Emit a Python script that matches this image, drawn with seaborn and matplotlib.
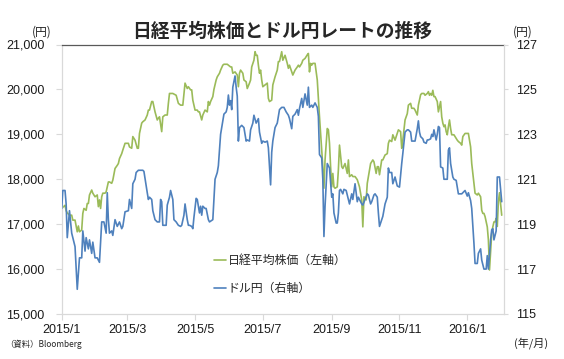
import numpy as np
import pandas as pd
import matplotlib
matplotlib.use("Agg")
import matplotlib.pyplot as plt
from matplotlib.lines import Line2D
from matplotlib.ticker import StrMethodFormatter
import seaborn as sns

# ---------------- data (days counted from 2015-01-01) ----------------
START = "2015-01-01"

nikkei_days = [0, 3, 4, 5, 7, 9, 10, 12, 14, 15, 16, 18, 19, 20, 22, 23, 24, 25, 27, 28,
               30, 32, 33, 34, 35, 36, 37, 39, 40, 42, 43, 45, 46, 48, 50, 51, 52, 54, 55, 57,
               59, 60, 61, 63, 64, 66, 68, 69, 70, 72, 73, 75, 77, 78, 79, 81, 82, 84, 86, 87,
               88, 90, 91, 93, 95, 96, 97, 99, 100, 103, 105, 107, 109, 111, 113, 114, 116, 117, 118, 120,
               122, 123, 124, 126, 127, 129, 131, 132, 133, 134, 136, 137, 139, 140, 142, 143, 145, 146, 149, 150,
               152, 153, 154, 156, 158, 159, 160, 161, 163, 164, 166, 167, 169, 170, 171, 173, 174, 175, 176, 177,
               178, 179, 180, 181, 183, 185, 186, 187, 189, 190, 192, 194, 195, 196, 198, 199, 201, 203, 204, 205,
               207, 208, 210, 212, 213, 214, 216, 217, 219, 221, 222, 223, 224, 225, 226, 228, 230, 231, 232, 234,
               235, 236, 237, 239, 240, 241, 242, 243, 244, 245, 246, 248, 249, 250, 252, 253, 255, 257, 258, 259,
               261, 262, 264, 266, 267, 268, 270, 271, 272, 274, 275, 276, 277, 278, 280, 281, 283, 284, 285, 286,
               288, 289, 291, 293, 294, 295, 297, 298, 300, 302, 303, 305, 306, 307, 308, 309, 311, 312, 314, 315,
               317, 318, 320, 321, 323, 324, 326, 327, 329, 330, 331, 332, 333, 334, 335, 336, 338, 339, 340, 341,
               342, 343, 344, 345, 346, 347, 348, 349, 350, 351, 353, 354, 356, 357, 359, 360, 361, 363, 365, 366,
               368, 369, 370, 372, 374, 375, 377, 378, 379, 380, 381, 382, 383, 384, 385, 387, 388, 389, 390, 391,
               392, 393, 394, 396]
nikkei_vals = [17350, 17420, 17300, 17250, 17200, 17200, 17090, 17090, 16830, 16960, 16830, 16870, 17240, 17350, 17310, 17460, 17460, 17650, 17760, 17690,
               17610, 17650, 17390, 17540, 17350, 17610, 17690, 17690, 17720, 17940, 17940, 17910, 17980, 18240, 18310, 18350, 18460, 18570, 18650, 18800,
               18800, 18800, 18720, 18690, 18950, 18870, 18690, 18690, 19020, 19250, 19280, 19320, 19430, 19540, 19540, 19730, 19730, 19500, 19320, 19360,
               19390, 19060, 19390, 19430, 19430, 19690, 19910, 19910, 19910, 19870, 19690, 19650, 19650, 20140, 20020, 20060, 19990, 19990, 19760, 19540,
               19540, 19500, 19500, 19320, 19430, 19540, 19500, 19730, 19650, 19730, 19840, 20000, 20210, 20280, 20360, 20430, 20540, 20560, 20560, 20540,
               20500, 20500, 20360, 20390, 20320, 20060, 20360, 20430, 20360, 20210, 20170, 20020, 20140, 20210, 20500, 20650, 20840, 20760, 20760, 20540,
               20360, 20430, 20210, 20060, 20100, 20140, 19800, 19730, 19760, 20100, 20280, 20430, 20620, 20620, 20840, 20650, 20760, 20580, 20470, 20540,
               20390, 20320, 20430, 20500, 20540, 20500, 20580, 20650, 20690, 20770, 20800, 20390, 20580, 20540, 20580, 20580, 20210, 19800, 19390, 18650,
               18280, 17800, 18430, 19130, 19100, 18800, 18280, 17830, 18130, 17830, 17800, 17830, 18210, 18760, 18280, 18240, 18350, 18130, 18430, 18060,
               18100, 18060, 18060, 17990, 17910, 17830, 17540, 16940, 17610, 17540, 17910, 18060, 18210, 18350, 18430, 18390, 18130, 18280, 18280, 18100,
               18430, 18430, 18540, 18570, 18800, 18870, 18840, 18990, 18870, 19020, 19100, 19060, 18690, 18870, 19100, 19320, 19460, 19650, 19690, 19580,
               19580, 19540, 19430, 19650, 19880, 19910, 19910, 19870, 19910, 19950, 19870, 19910, 19870, 19980, 19840, 19840, 19730, 19500, 19610, 19730,
               19390, 19250, 19170, 19210, 19060, 18990, 19170, 19320, 19130, 18990, 18990, 18950, 18870, 18840, 18800, 18760, 18950, 19020, 19020, 19020,
               18720, 18350, 18130, 17690, 17650, 17690, 17610, 17310, 17240, 17240, 17170, 17050, 16940, 16650, 15980, 16800, 16940, 17050, 17050, 17130,
               16950, 17500, 17700, 17200]

usdjpy_days = [0, 1, 3, 4, 5, 7, 9, 10, 12, 14, 16, 18, 19, 21, 22, 24, 25, 27, 28, 30,
               32, 34, 36, 38, 40, 41, 42, 43, 45, 46, 48, 50, 52, 54, 55, 57, 60, 61, 63, 64,
               66, 67, 69, 73, 74, 76, 77, 78, 79, 81, 82, 84, 86, 88, 89, 90, 91, 94, 95, 97,
               98, 100, 101, 103, 105, 107, 108, 110, 111, 113, 114, 115, 117, 118, 119, 121, 122, 124, 125, 126,
               127, 129, 130, 132, 133, 136, 137, 138, 140, 141, 142, 143, 145, 146, 148, 149, 150, 151, 152, 153,
               154, 156, 157, 158, 159, 160, 162, 164, 166, 167, 169, 170, 172, 173, 175, 176, 177, 178, 180, 181,
               183, 185, 186, 187, 188, 189, 190, 192, 194, 195, 196, 198, 200, 201, 202, 204, 205, 207, 208, 210,
               212, 213, 214, 216, 217, 219, 221, 222, 223, 225, 226, 228, 230, 231, 232, 234, 235, 236, 237, 239,
               240, 241, 243, 244, 245, 247, 248, 249, 250, 251, 253, 254, 256, 257, 258, 259, 261, 262, 264, 266,
               267, 268, 270, 271, 273, 275, 276, 278, 279, 281, 282, 284, 285, 286, 288, 289, 291, 293, 294, 295,
               297, 298, 300, 302, 304, 305, 306, 307, 309, 311, 312, 314, 315, 317, 318, 320, 321, 322, 323, 325,
               326, 328, 329, 330, 332, 333, 334, 335, 337, 338, 339, 340, 341, 343, 344, 347, 348, 349, 350, 352,
               353, 355, 356, 357, 359, 360, 361, 363, 365, 366, 368, 369, 370, 371, 372, 374, 375, 377, 378, 380,
               382, 383, 384, 386, 387, 388, 389, 391, 392, 394, 396]
usdjpy_vals = [119.7, 120.5, 120.5, 119.9, 118.4, 119.6, 118.6, 118.4, 118.0, 116.1, 117.5, 117.5, 118.7, 117.8, 118.4, 117.9, 118.3, 117.7, 118.2, 117.5,
               117.5, 117.3, 119.1, 119.1, 118.6, 120.4, 119.2, 118.6, 118.7, 118.5, 119.2, 118.9, 119.1, 118.8, 118.9, 119.55, 119.6, 120.1, 119.7, 120.8,
               121.0, 121.3, 121.4, 121.4, 121.35, 120.7, 120.4, 120.1, 120.2, 120.1, 119.6, 119.2, 119.1, 119.1, 120.1, 120.0, 118.95, 118.95, 119.85, 120.2,
               120.5, 120.1, 119.2, 119.1, 118.95, 118.9, 118.95, 119.4, 119.9, 119.2, 118.95, 118.95, 118.9, 118.8, 119.3, 120.15, 120.1, 119.5, 119.8, 119.4,
               119.8, 119.7, 119.7, 119.2, 119.1, 119.2, 120.1, 121.0, 121.3, 121.6, 122.3, 123.0, 123.6, 123.9, 124.0, 124.2, 124.75, 124.3, 124.5, 124.1,
               125.1, 125.6, 125.1, 124.7, 122.7, 123.3, 123.4, 123.3, 122.7, 122.75, 122.7, 123.2, 123.5, 123.85, 123.5, 123.6, 123.7, 123.1, 122.6, 122.7,
               122.65, 122.7, 122.4, 121.6, 120.75, 122.2, 122.7, 123.3, 123.5, 123.8, 124.1, 124.2, 124.2, 124.1, 124.0, 123.85, 123.7, 123.25, 123.8, 123.9,
               124.1, 123.85, 124.15, 124.6, 124.2, 124.8, 124.3, 125.1, 124.2, 124.3, 124.2, 124.4, 124.2, 123.8, 122.1, 121.95, 121.0, 118.45, 119.8, 121.7,
               121.6, 121.5, 120.2, 120.35, 119.5, 119.05, 119.05, 119.5, 120.5, 120.55, 120.35, 120.55, 120.5, 120.3, 120.1, 119.9, 120.35, 120.1, 120.8, 120.0,
               120.2, 120.1, 119.9, 119.85, 120.1, 120.35, 120.3, 119.9, 120.0, 120.3, 120.35, 120.2, 119.5, 118.9, 119.2, 119.35, 119.9, 120.2, 121.5, 121.3,
               121.3, 120.8, 121.1, 120.7, 120.65, 121.2, 121.7, 122.15, 123.1, 123.2, 123.2, 123.1, 122.7, 122.7, 122.7, 123.25, 123.6, 123.1, 122.9, 122.8,
               122.65, 122.6, 122.75, 122.75, 122.8, 123.0, 122.9, 123.2, 122.75, 123.0, 123.35, 123.3, 121.55, 121.5, 121.0, 121.0, 122.3, 122.4, 121.7, 121.1,
               121.0, 120.95, 120.65, 120.35, 120.35, 120.35, 120.4, 120.5, 120.25, 120.4, 120.05, 119.7, 118.95, 118.15, 117.25, 117.25, 117.7, 117.9, 117.4, 117.0,
               117.0, 117.6, 117.0, 118.3, 118.75, 118.8, 118.3, 118.7, 121.1, 121.1, 120.0]

x_tick_dates = ["2015-01-01", "2015-03-01", "2015-05-01", "2015-07-01",
                "2015-09-01", "2015-11-01", "2016-01-01"]
x_tick_labels = ["2015/1", "2015/3", "2015/5", "2015/7", "2015/9", "2015/11", "2016/1"]
left_ticks = [15000, 16000, 17000, 18000, 19000, 20000, 21000]
right_ticks = [115, 117, 119, 121, 123, 125, 127]

title = "日経平均株価とドル円レートの推移"
label_nikkei = "日経平均株価（左軸）"
label_usd = "ドル円（右軸）"

GREEN = "#9BBB59"
BLUE = "#4F81BD"
LIGHT = "#D9D9D9"
JP = "Noto Sans CJK JP"

# ---------------- figure ----------------
sns.set_style("ticks")
plt.rcParams["font.family"] = ["Liberation Sans", "Noto Sans CJK JP"]

W, H = 564, 359
fig = plt.figure(figsize=(W / 100, H / 100), dpi=100)
fig.patch.set_facecolor("white")
L, R, T, B = 61.7, 503.5, 44.5, 314.0
ax = fig.add_axes([L / W, 1 - B / H, (R - L) / W, (B - T) / H])
ax2 = ax.twinx()

base = pd.Timestamp(START)
nk = pd.DataFrame({"date": base + pd.to_timedelta(nikkei_days, unit="D"), "value": nikkei_vals})
fx = pd.DataFrame({"date": base + pd.to_timedelta(usdjpy_days, unit="D"), "value": usdjpy_vals})

LW = 1.2
sns.lineplot(data=nk, x="date", y="value", ax=ax, color=GREEN, linewidth=LW, legend=False)
sns.lineplot(data=fx, x="date", y="value", ax=ax2, color=BLUE, linewidth=LW, legend=False)

ax.set_xlim(base, base + pd.Timedelta(days=397.6))
ax.set_ylim(15000, 21000)
ax2.set_ylim(115, 127)

ax.set_xticks(pd.to_datetime(x_tick_dates))
ax.set_xticklabels(x_tick_labels)
ax.set_yticks(left_ticks)
ax.yaxis.set_major_formatter(StrMethodFormatter("{x:,.0f}"))
ax2.set_yticks(right_ticks)
ax2.set_yticklabels([str(v) for v in right_ticks])

for a in (ax, ax2):
    a.set_xlabel("")
    a.set_ylabel("")
    a.grid(False)

ax.tick_params(axis="y", direction="out", length=4, width=0.8, color=LIGHT,
               labelsize=9, labelcolor="#1a1a1a", pad=8.5)
ax.tick_params(axis="x", direction="out", length=4, width=0.8, color=LIGHT,
               labelsize=9, labelcolor="#1a1a1a", pad=3)
ax2.tick_params(axis="y", direction="out", length=3, width=0.8, color=LIGHT,
                labelsize=9, labelcolor="#1a1a1a", pad=6)

for s in ax.spines.values():
    s.set_linewidth(0.9)
ax.spines["left"].set_color(LIGHT)
ax.spines["bottom"].set_color(LIGHT)
ax.spines["top"].set_visible(True)
ax.spines["top"].set_color("#595959")
ax.spines["right"].set_visible(False)
for s in ("left", "bottom", "top"):
    ax2.spines[s].set_visible(False)
ax2.spines["right"].set_visible(True)
ax2.spines["right"].set_color(LIGHT)
ax2.spines["right"].set_linewidth(0.9)

# legend
handles = [Line2D([], [], color=GREEN, lw=LW), Line2D([], [], color=BLUE, lw=LW)]
fig.legend(handles, [label_nikkei, label_usd], loc="upper left",
           bbox_to_anchor=(214 / W, 1 - 254 / H), frameon=False,
           prop={"family": JP, "size": 8.6}, handlelength=1.0,
           handletextpad=0.15, labelspacing=1.25, borderpad=0, borderaxespad=0)

# texts
fig.text(282.6 / W, 1 - 31 / H, title, ha="center", va="center",
         fontsize=13.5, fontweight="bold", family=JP)
fig.text(42 / W, 1 - 32 / H, "(円)", ha="center", va="center", fontsize=8.5, family=JP)
fig.text(523 / W, 1 - 32 / H, "(円)", ha="center", va="center", fontsize=8.5, family=JP)
fig.text(5 / W, 1 - 344 / H, "（資料）Bloomberg", ha="left", va="center", fontsize=6, family=JP)
fig.text(548 / W, 1 - 343 / H, "(年/月)", ha="right", va="center", fontsize=8, family=JP)

fig.savefig("out.png", dpi=100, facecolor="white")
